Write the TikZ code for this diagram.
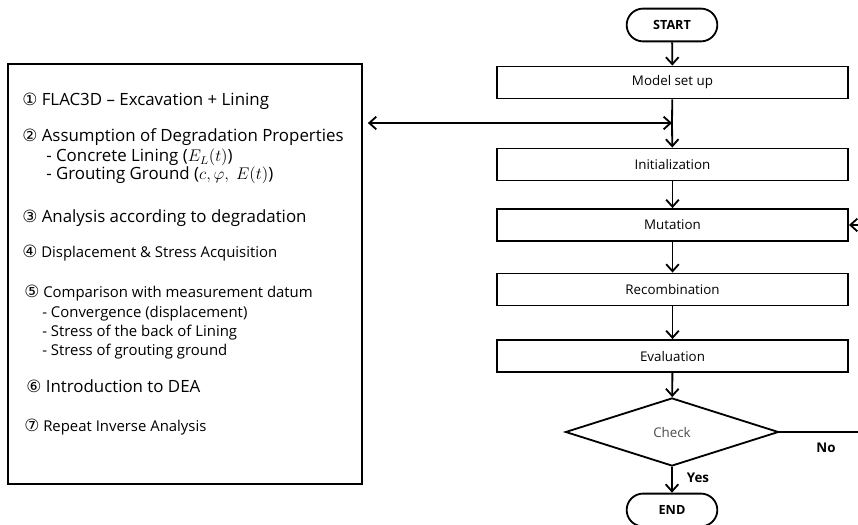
\documentclass[tikz,border=0pt]{standalone}
\usepackage{fontspec}
\setmainfont{Open Sans}
\newfontfamily\circfont{DejaVu Sans}
\usetikzlibrary{shapes.geometric,shapes.misc,arrows.meta}
\tikzset{
  proc/.style={draw,line width=1.3pt,minimum width=8.775cm,minimum height=0.8cm,
    font=\fontsize{9.5}{11}\selectfont},
  term/.style={draw,line width=1.3pt,rounded rectangle,minimum width=2.5cm,
    minimum height=0.82cm,font=\bfseries\fontsize{9}{11}\selectfont},
  flow/.style={-{Straight Barb[length=5pt,width=9pt]},line width=1.3pt},
  big/.style={anchor=base west,inner sep=0pt,font=\fontsize{12}{13}\selectfont},
  small/.style={anchor=base west,inner sep=0pt,font=\fontsize{10.6}{12}\selectfont},
}
\begin{document}
\begin{tikzpicture}[x=0.025cm,y=-0.025cm]
  \useasboundingbox (0,0) rectangle (858,525);
  % left panel
  \node[draw,line width=1.5pt,minimum width=8.85cm,minimum height=10.5cm] (panel) at (185,274) {};
  \foreach \n/\x/\y/\t in {item1/22/106/{{\circfont\large ①} FLAC3D – Excavation + Lining},
    item2/22/142/{{\circfont\large ②} Assumption of Degradation Properties},
    sub21/46/162/{- Concrete Lining ($E_L(t)$)},
    sub22/46/180/{- Grouting Ground ($c, \varphi,\ E(t)$)},
    item3/22/223/{{\circfont\large ③} Analysis according to degradation},
    item6/26/393/{{\circfont\large ⑥} Introduction to DEA}}
    \node[big] (\n) at (\x,\y) {\t};
  \foreach \n/\x/\y/\t in {item4/22/258/{{\circfont\large ④} Displacement \& Stress Acquisition},
    item5/24/298/{{\circfont\large ⑤} Comparison with measurement datum},
    sub51/42/318/{- Convergence (displacement)},
    sub52/42/337/{- Stress of the back of Lining},
    sub53/42/356/{- Stress of grouting ground},
    item7/24/432/{{\circfont\large ⑦} Repeat Inverse Analysis}}
    \node[small] (\n) at (\x,\y) {\t};
  % flowchart
  \node[term] (start) at (672,25) {START};
  \foreach \n/\y/\t in {setup/82.5/Model set up, init/164.5/Initialization,
    mut/225/Mutation, recomb/289.5/Recombination, eval/356/Evaluation}
    \node[proc] (\n) at (672.5,\y) {\t};
  \node[draw,diamond,line width=1.3pt,inner sep=0pt,minimum width=5.325cm,minimum height=1.7cm,
    text=black!70,font=\fontsize{9.5}{11}\selectfont] (check) at (672,432) {Check};
  \node[term] (end) at (672,510) {END};
  \coordinate (junc) at (672,123);
  \coordinate (mutin) at (858,225);
  \coordinate (noout) at (858,432);
  \draw[flow] (start) -- (setup);
  \draw[line width=1.3pt] (setup) -- (junc);
  \draw[flow] (junc) -- (init);
  \draw[line width=1.3pt,{Straight Barb[length=5pt,width=9pt]}-{Straight Barb[length=5pt,width=9pt]}]
    ([xshift=0.12cm]panel.east |- junc) -- (junc);
  \foreach \a/\b in {init/mut, mut/recomb, recomb/eval, eval/check, check/end}
    \draw[flow] (\a) -- (\b);
  \draw[flow] (mutin) -- (mut);
  \draw[line width=1.3pt] (check) -- (noout);
  \node[font=\bfseries\fontsize{9.5}{11}\selectfont] (yes) at (698,478) {Yes};
  \node[font=\bfseries\fontsize{9.5}{11}\selectfont] (no) at (826,448) {No};
\end{tikzpicture}
\end{document}
